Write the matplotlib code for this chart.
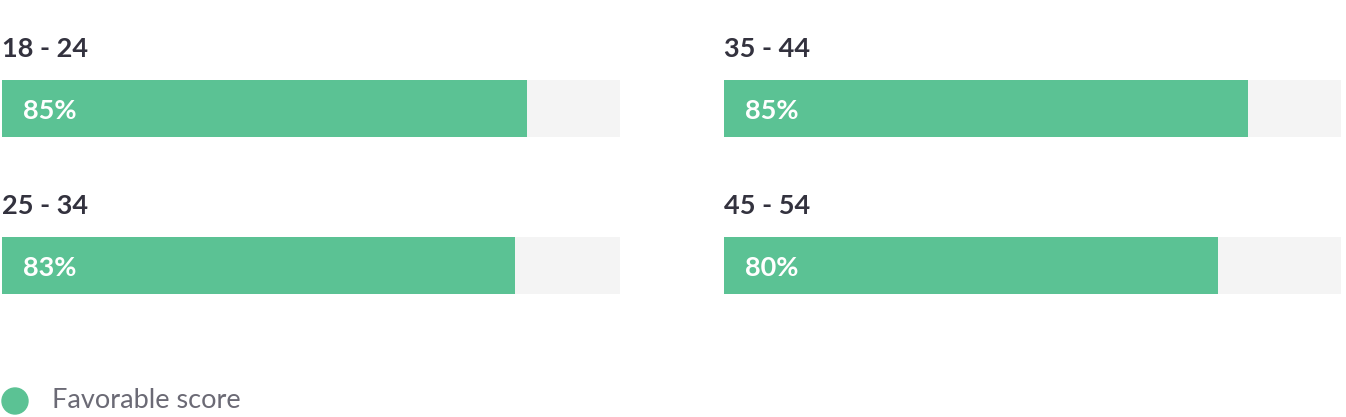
import matplotlib.pyplot as plt
from matplotlib.patches import Circle

groups = ['18 - 24', '35 - 44', '25 - 34', '45 - 54']
scores = [85, 85, 83, 80]
legend_label = 'Favorable score'

green = '#5bc294'
track = '#f4f4f4'
dark = '#33323e'
grey = '#6b6a75'

W, H = 1346, 417
fig = plt.figure(figsize=(W / 100, H / 100), dpi=100)
plt.rcParams['font.family'] = ['Lato', 'DejaVu Sans']

# panel boxes in pixels: left, top, width, height
boxes = [(2, 80, 618, 57), (724, 80, 617, 57),
         (2, 237, 618, 57), (724, 237, 617, 57)]

for name, val, (x, y, w, h) in zip(groups, scores, boxes):
    ax = fig.add_axes([x / W, (H - y - h) / H, w / W, h / H])
    ax.barh(0, 100, height=1, color=track)
    ax.barh(0, val, height=1, color=green)
    ax.set_xlim(0, 100)
    ax.set_ylim(-0.5, 0.5)
    ax.axis('off')
    ax.text(21 / w * 100, -0.04, f'{val}%', color='white', fontsize=19.5,
            fontweight='bold', va='center', ha='left')
    fig.text(x / W, (H - 49) / H if y < 150 else (H - 206) / H, name,
             color=dark, fontsize=19.5, fontweight='bold',
             va='center', ha='left')

# legend
lax = fig.add_axes([0, 0, 1, 1])
lax.set_xlim(0, W)
lax.set_ylim(H, 0)
lax.axis('off')
lax.add_patch(Circle((15, 401), 13, color=green))
lax.text(52, 401, legend_label, color=grey, fontsize=19.5,
         va='center', ha='left')

fig.savefig('out.png', dpi=100)
